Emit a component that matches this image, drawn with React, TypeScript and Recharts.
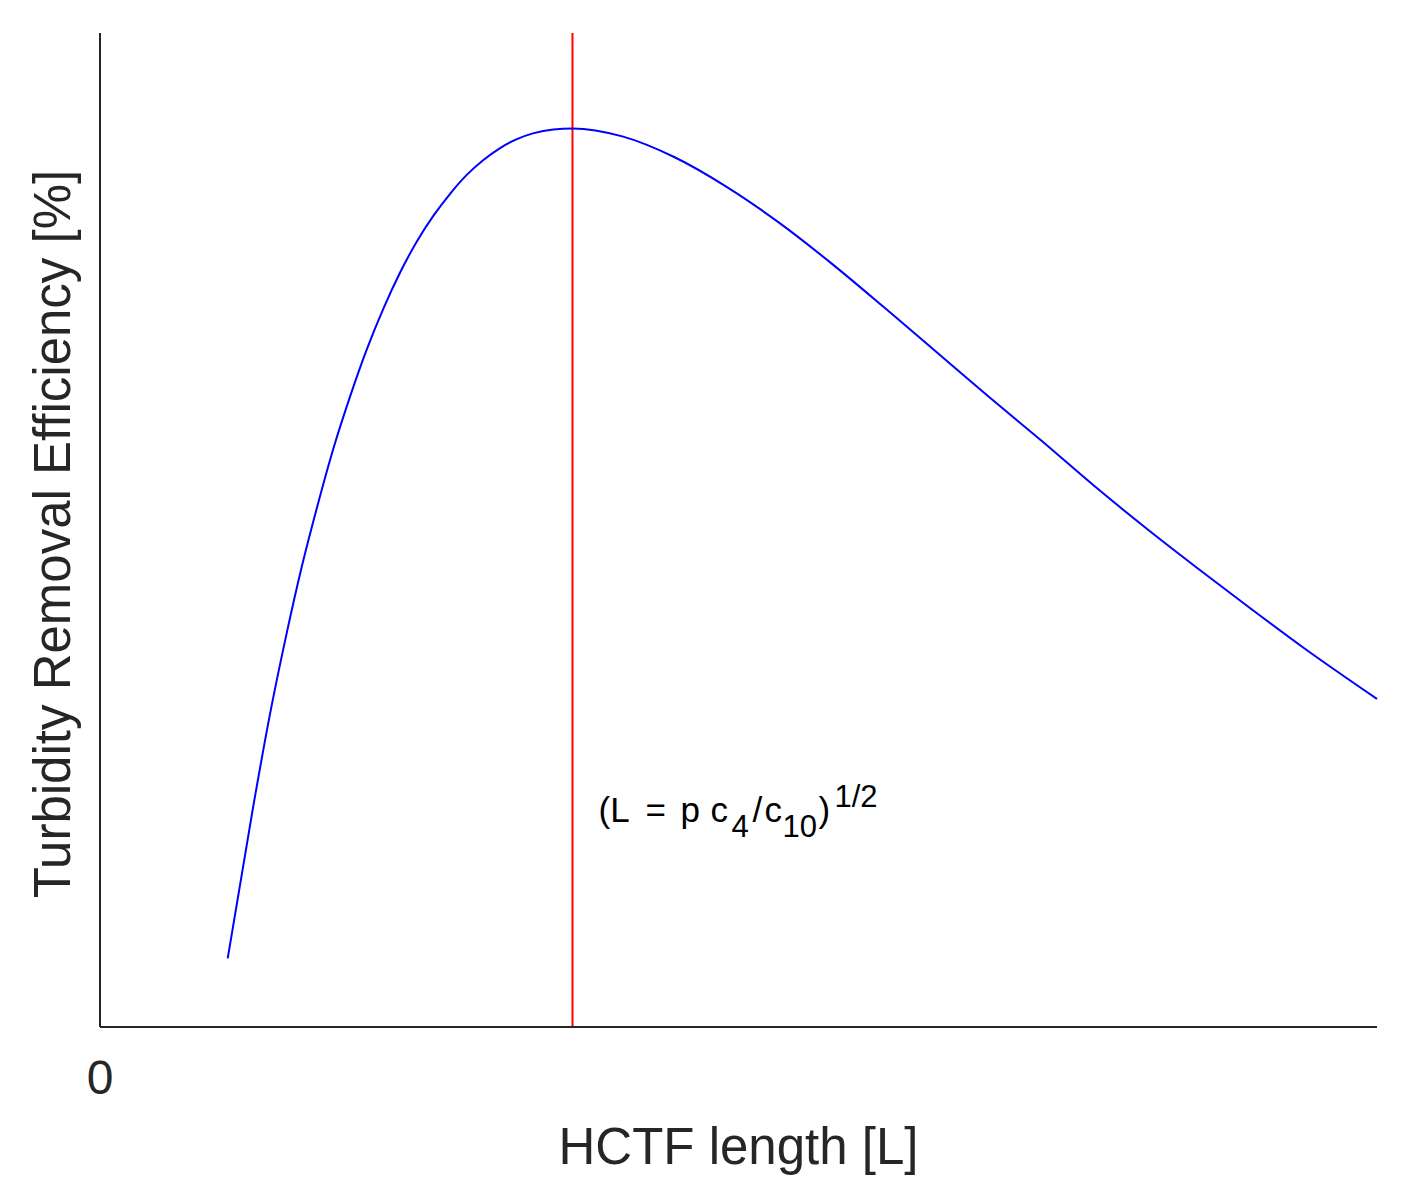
import { Label, Line, LineChart, ReferenceLine, XAxis, YAxis } from 'recharts';

// HCTF length (arbitrary units, axis 0..10) and removal efficiency (%, axis 0..100)
const lengths = [
  1.0, 1.2, 1.33, 1.46, 1.58, 1.7, 1.83, 1.96, 2.09, 2.22, 2.35, 2.48, 2.61, 2.74, 2.87, 3.0, 3.13, 3.26, 3.39,
  3.55, 3.7, 4.09, 4.5, 4.91, 5.32, 5.73, 6.14, 6.55, 6.96, 7.38, 7.78, 8.19, 8.61, 9.01, 9.43, 10.0,
];
const efficiency = [
  6.9, 22.2, 31.4, 39.5, 46.3, 52.3, 58.3, 63.5, 68.2, 72.3, 75.9, 79.0, 81.6, 83.8, 85.7, 87.2, 88.4, 89.3, 89.9,
  90.3, 90.4, 89.6, 87.5, 84.5, 80.9, 76.8, 72.4, 67.9, 63.4, 58.9, 54.5, 50.2, 46.0, 42.1, 38.1, 33.0,
];
const xTicks = [0];
const optimumLength = 3.7;

const points = lengths.map((x, i) => ({ x, y: efficiency[i] }));

const FONT = '"Liberation Sans", Arial, sans-serif';
const INK = '#262626';

function ZeroTick({ x, y, payload }: any) {
  return (
    <text x={x} y={y + 67} textAnchor="middle" fontFamily={FONT} fontSize={48} fill={INK}>
      {payload.value}
    </text>
  );
}

// (L = p c4/c10)^1/2 next to the optimum line
function OptimumLabel({ viewBox }: any) {
  const x0 = viewBox.x;
  const y = viewBox.y + 789;
  return (
    <text x={x0 + 26} y={y} fontFamily={FONT} fontSize={35} fill="#000">
      <tspan x={x0 + 26}>(L</tspan>
      <tspan x={x0 + 73}>=</tspan>
      <tspan x={x0 + 108}>p</tspan>
      <tspan x={x0 + 138}>c</tspan>
      <tspan x={x0 + 159} dy={15} fontSize={31}>4</tspan>
      <tspan x={x0 + 180} dy={-15}>/</tspan>
      <tspan x={x0 + 192}>c</tspan>
      <tspan x={x0 + 210} dy={15} fontSize={31}>10</tspan>
      <tspan x={x0 + 246} dy={-15}>)</tspan>
      <tspan x={x0 + 262} dy={-15} fontSize={31}>1/2</tspan>
    </text>
  );
}

export default function App() {
  return (
    <div style={{ position: 'absolute', left: 0, top: 0, background: '#fff' }}>
      <LineChart width={1419} height={1193} data={points} margin={{ top: 33, right: 42, bottom: 0, left: 0 }}>
        <XAxis
          dataKey="x"
          type="number"
          domain={[0, 10]}
          ticks={xTicks}
          tickLine={false}
          tickSize={0}
          tickMargin={0}
          tick={<ZeroTick />}
          height={166}
          axisLine={{ stroke: INK, strokeWidth: 2 }}
        >
          <Label
            content={({ viewBox }: any) => (
              <text
                x={viewBox.x + viewBox.width / 2}
                y={viewBox.y + 137}
                textAnchor="middle"
                fontFamily={FONT}
                fontSize={51}
                fill={INK}
              >
                HCTF length [L]
              </text>
            )}
          />
        </XAxis>
        <YAxis
          type="number"
          domain={[0, 100]}
          ticks={[]}
          tick={false}
          tickLine={false}
          width={100}
          axisLine={{ stroke: INK, strokeWidth: 2 }}
        >
          <Label
            content={({ viewBox }: any) => {
              const cx = 70;
              const cy = viewBox.y + viewBox.height / 2 + 4;
              return (
                <text
                  x={cx}
                  y={cy}
                  transform={`rotate(-90, ${cx}, ${cy})`}
                  textAnchor="middle"
                  fontFamily={FONT}
                  fontSize={51}
                  fill={INK}
                >
                  Turbidity Removal Efficiency [%]
                </text>
              );
            }}
          />
        </YAxis>
        <ReferenceLine x={optimumLength} stroke="#ff0000" strokeWidth={2} label={<OptimumLabel />} />
        <Line
          type="monotone"
          dataKey="y"
          stroke="#0000ff"
          strokeWidth={2}
          dot={false}
          activeDot={false}
          isAnimationActive={false}
        />
      </LineChart>
    </div>
  );
}
